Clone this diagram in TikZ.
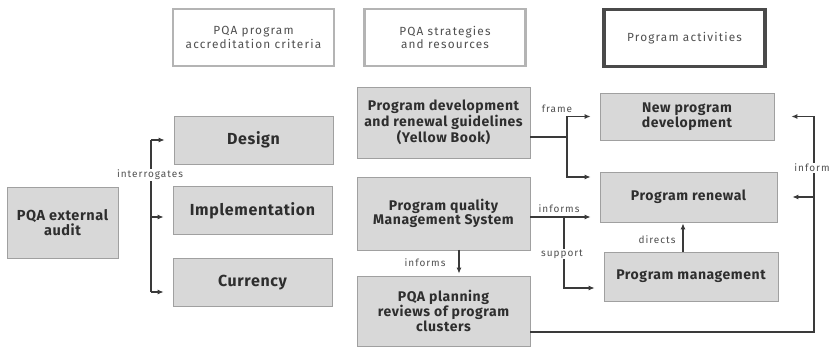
\documentclass[tikz,border=0pt]{standalone}
\usepackage{fontspec}
\setmainfont{Fira Sans}
\newfontfamily\lblfont[LetterSpace=10]{Fira Sans}
\newfontfamily\boxfont[LetterSpace=4]{Fira Sans}
\usetikzlibrary{arrows.meta,calc}
\definecolor{hdrgray}{HTML}{B4B4B4}
\definecolor{hdrdark}{HTML}{4A4A4A}
\definecolor{boxfill}{HTML}{D8D8D8}
\definecolor{boxedge}{HTML}{A0A0A0}
\definecolor{txt}{HTML}{2E2E2E}
\definecolor{lblc}{HTML}{505050}
\definecolor{linec}{HTML}{3A3A3A}
\begin{document}
\begin{tikzpicture}[x=1pt,y=-1pt,
  hdr/.style={draw=hdrgray, line width=2.6pt, fill=white, align=center, inner sep=0pt,
    minimum width=161pt, minimum height=57pt, text=lblc,
    font=\lblfont\fontsize{11.8}{13.5}\selectfont},
  gbox/.style={draw=boxedge, fill=boxfill, line width=0.8pt, align=center, inner sep=0pt,
    text=txt, font=\boxfont\bfseries\fontsize{14}{12}\selectfont},
  crit/.style={gbox, minimum width=159pt, minimum height=48pt,
    font=\boxfont\bfseries\fontsize{16}{15}\selectfont},
  conn/.style={draw=linec, line width=1.1pt},
  arr/.style={conn, -{Latex[length=6pt,width=5pt]}, shorten >=9pt},
  lbl/.style={font=\lblfont\fontsize{10}{11}\selectfont, text=lblc, inner sep=1pt}
]
\useasboundingbox (0,0) rectangle (832,347);
\fill[white] (0,0) rectangle (832,347);

% headers
\node[hdr] (h1) at (253.5,37.5) {PQA program\\accreditation criteria};
\node[hdr] (h2) at (445,37.5) {PQA strategies\\and resources};
\node[hdr, draw=hdrdark, line width=3.4pt] (h3) at (684.5,38) {Program activities};

% criteria
\node[crit] (design) at (253.5,140) {Design};
\node[crit] (impl) at (252.5,210.5) {Implementation};
\node[crit] (curr) at (252.5,282.5) {Currency};

% audit
\node[gbox, minimum width=111pt, minimum height=71pt, font=\boxfont\bfseries\fontsize{14.5}{13}\selectfont] (audit) at (62.5,222.5) {PQA external\\audit};

% strategies
\node[gbox, minimum width=173pt, minimum height=71pt] (pdg) at (443.5,122.5) {Program development\\and renewal guidelines\\(Yellow Book)};
\node[gbox, minimum width=173pt, minimum height=73pt] (pqms) at (443.5,213.5) {Program quality\\Management System};
\node[gbox, minimum width=173pt, minimum height=70pt] (plan) at (443.5,311) {PQA planning\\reviews of program\\clusters};

% activities
\node[gbox, minimum width=174pt, minimum height=47pt] (npd) at (687,116.5) {New program\\development};
\node[gbox, minimum width=177pt, minimum height=50pt] (ren) at (688.5,197) {Program renewal};
\node[gbox, minimum width=174pt, minimum height=49pt] (mgmt) at (691,276.5) {Program management};

% interrogates
\coordinate (it) at (151,140);
\coordinate (ib) at (151,292);
\draw[conn] (it) -- (ib);
\draw[arr] (it) -- (design.west);
\draw[arr] (151,217) coordinate (im) -- (impl.west |- im);
\draw[arr] (ib) -- (curr.west |- ib);
\node[lbl, fill=white] (lint) at (150,175) {interrogates};

% frame
\coordinate (fj) at (567,137);
\draw[conn] (pdg.east |- fj) -- (fj);
\draw[arr] (fj) |- (npd.west);
\draw[arr] (fj) |- ([yshift=20pt]ren.west);
\node[lbl] (lframe) at (557,109) {frame};

% informs / support
\coordinate (ij) at (564,217);
\draw[arr] (pqms.east |- ij) -- (ren.west |- ij);
\draw[arr] (ij) |- ([yshift=-11.5pt]mgmt.west);
\node[lbl] (linf) at (559,209) {informs};
\node[lbl, fill=white] (lsup) at (562,254) {support};

% informs down
\draw[arr, shorten >=2pt] (459,250) coordinate (dj) -- (dj |- plan.north);
\node[lbl] (linf2) at (425,263) {informs};

% directs
\draw[arr, shorten >=1pt] (683,252) coordinate (dr) -- (dr |- ren.south);
\node[lbl] (ldir) at (657,240) {directs};

% inform loop
\coordinate (lb) at (814,332);
\coordinate (lt) at (814,116.5);
\coordinate (lm) at (814,197);
\draw[conn] (plan.east |- lb) -- (lb) -- (lt);
\draw[arr, shorten >=17pt] (lt) -- (npd.east);
\draw[arr, shorten >=15pt] (lm) -- (ren.east);
\node[lbl, fill=white] (linfm) at (812,168) {inform};
\end{tikzpicture}
\end{document}
